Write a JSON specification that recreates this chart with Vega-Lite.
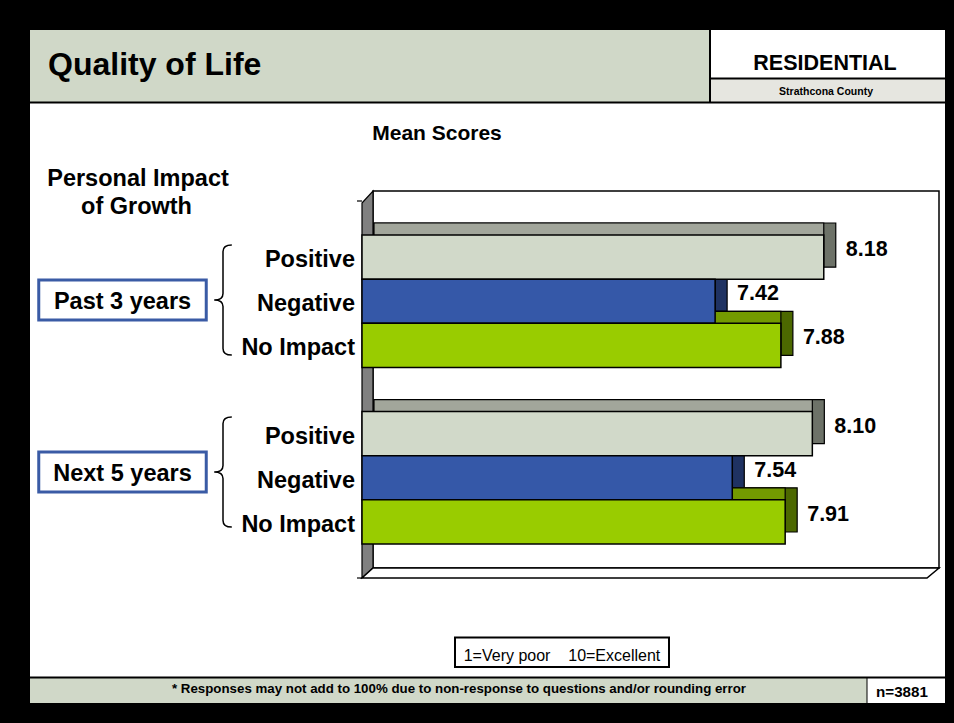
{
  "$schema": "https://vega.github.io/schema/vega-lite/v6.json",
  "width": 954,
  "height": 723,
  "autosize": {"type": "fit", "contains": "padding"},
  "padding": 0,
  "background": "black",
  "config": {"view": {"stroke": null}, "font": "Liberation Sans"},
  "layer": [
    {"data": {"values": [{"part": "slide"}]}, "mark": {"type": "rect", "fill": "white"},
     "encoding": {"x": {"value": 30}, "x2": {"value": 945}, "y": {"value": 30}, "y2": {"value": 703}}},
    {"data": {"values": [{"part": "header band"}]}, "mark": {"type": "rect", "fill": "#d0d8c8"},
     "encoding": {"x": {"value": 30}, "x2": {"value": 710}, "y": {"value": 30}, "y2": {"value": 102}}},
    {"data": {"values": [{"part": "county strip"}]}, "mark": {"type": "rect", "fill": "#e6e6e0"},
     "encoding": {"x": {"value": 710}, "x2": {"value": 945}, "y": {"value": 79}, "y2": {"value": 102}}},
    {"data": {"values": [{"part": "header rule"}]}, "mark": {"type": "rule", "stroke": "black", "strokeWidth": 2},
     "encoding": {"x": {"value": 30}, "x2": {"value": 945}, "y": {"value": 102.5}}},
    {"data": {"values": [{"part": "header divider"}]}, "mark": {"type": "rule", "stroke": "black", "strokeWidth": 2},
     "encoding": {"x": {"value": 710}, "y": {"value": 30}, "y2": {"value": 103}}},
    {"data": {"values": [{"part": "residential rule"}]}, "mark": {"type": "rule", "stroke": "black", "strokeWidth": 2},
     "encoding": {"x": {"value": 710}, "x2": {"value": 945}, "y": {"value": 78.5}}},
    {"data": {"values": [{"part": "footer band"}]}, "mark": {"type": "rect", "fill": "#d0d8c8"},
     "encoding": {"x": {"value": 30}, "x2": {"value": 867}, "y": {"value": 677}, "y2": {"value": 703}}},
    {"data": {"values": [{"part": "footer rule"}]}, "mark": {"type": "rule", "stroke": "black", "strokeWidth": 2},
     "encoding": {"x": {"value": 30}, "x2": {"value": 945}, "y": {"value": 677.5}}},
    {"data": {"values": [{"part": "n divider"}]}, "mark": {"type": "rule", "stroke": "black", "strokeWidth": 1},
     "encoding": {"x": {"value": 867}, "y": {"value": 677}, "y2": {"value": 703}}},
    {"data": {"values": [{"part": "scale note box"}]}, "mark": {"type": "rect", "fill": "white", "stroke": "black", "strokeWidth": 2},
     "encoding": {"x": {"value": 455}, "x2": {"value": 669}, "y": {"value": 637.5}, "y2": {"value": 667}}},
    {"data": {"values": [{"part": "back wall"}]}, "mark": {"type": "rect", "fill": "white", "stroke": "black", "strokeWidth": 1.5},
     "encoding": {"x": {"value": 373}, "x2": {"value": 939}, "y": {"value": 191}, "y2": {"value": 568}}},
    {"data": {"values": [{"part": "side wall"}]},
     "mark": {"type": "point", "shape": "M-0.0284,-0.938L0.0284,-1L0.0284,0.948L-0.0284,1Z", "size": 149769, "filled": true, "fill": "#808080", "stroke": "black", "strokeWidth": 1.2, "opacity": 1},
     "encoding": {"x": {"value": 367.5}, "y": {"value": 384.5}}},
    {"data": {"values": [{"part": "floor"}]},
     "mark": {"type": "point", "shape": "M-1,0.0173L0.9584,0.0173L1,-0.0173L-0.9619,-0.0173Z", "size": 332929, "filled": true, "fill": "white", "stroke": "black", "strokeWidth": 1.5, "opacity": 1},
     "encoding": {"x": {"value": 650.5}, "y": {"value": 573}}},
    {"data": {"values": [{"part": "top tick"}]}, "mark": {"type": "rule", "stroke": "black", "strokeWidth": 1.2},
     "encoding": {"x": {"value": 357}, "x2": {"value": 362}, "y": {"value": 201}}},
    {"data": {"values": [{"part": "bottom tick"}]}, "mark": {"type": "rule", "stroke": "black", "strokeWidth": 1.2},
     "encoding": {"x": {"value": 357}, "x2": {"value": 362}, "y": {"value": 578}}},
    {
      "data": {"values": [
        {"period": "Past 3 years", "impact": "Positive", "row": "Past 3 years / Positive", "score": 8.18},
        {"period": "Past 3 years", "impact": "Negative", "row": "Past 3 years / Negative", "score": 7.42},
        {"period": "Past 3 years", "impact": "No Impact", "row": "Past 3 years / No Impact", "score": 7.88},
        {"period": "Next 5 years", "impact": "Positive", "row": "Next 5 years / Positive", "score": 8.10},
        {"period": "Next 5 years", "impact": "Negative", "row": "Next 5 years / Negative", "score": 7.54},
        {"period": "Next 5 years", "impact": "No Impact", "row": "Next 5 years / No Impact", "score": 7.91}
      ]},
      "encoding": {
        "y": {"field": "row", "type": "nominal", "axis": null,
              "scale": {"domain": ["Past 3 years / Positive", "Past 3 years / Negative", "Past 3 years / No Impact", "gap", "Next 5 years / Positive", "Next 5 years / Negative", "Next 5 years / No Impact"],
                        "range": [235, 544], "paddingInner": 0, "paddingOuter": 0}},
        "x": {"field": "score", "type": "quantitative", "axis": null,
              "scale": {"domain": [4.95, 9], "range": [362, 941], "zero": false, "nice": false}}
      },
      "layer": [
        {"mark": {"type": "bar", "xOffset": 12, "x2Offset": 12, "yOffset": -12, "stroke": "black", "strokeWidth": 1.2, "opacity": 1},
         "encoding": {"x2": {"datum": 4.95},
                      "fill": {"field": "impact", "type": "nominal", "legend": null,
                               "scale": {"domain": ["Positive", "Negative", "No Impact"], "range": ["#6d7268", "#1f3262", "#4c6800"]}}}},
        {"mark": {"type": "bar", "x2Offset": 12, "yOffset": -12, "stroke": "black", "strokeWidth": 1.2, "opacity": 1},
         "encoding": {"x2": {"datum": 4.95},
                      "fill": {"field": "impact", "type": "nominal", "legend": null,
                               "scale": {"domain": ["Positive", "Negative", "No Impact"], "range": ["#a2a69b", "#2c4a8c", "#739a00"]}}}},
        {"mark": {"type": "bar", "stroke": "black", "strokeWidth": 1.5, "opacity": 1},
         "encoding": {"x2": {"datum": 4.95},
                      "fill": {"field": "impact", "type": "nominal", "legend": null,
                               "scale": {"domain": ["Positive", "Negative", "No Impact"], "range": ["#d1d9c9", "#3558a8", "#99cc00"]}}}},
        {"mark": {"type": "text", "align": "left", "baseline": "alphabetic", "dx": 22, "dy": -1, "fontSize": 21.5, "fontWeight": "bold", "color": "black"},
         "encoding": {"text": {"field": "score", "type": "quantitative", "format": ".2f"}}},
        {"mark": {"type": "text", "align": "right", "baseline": "alphabetic", "dx": -7, "dy": 10, "fontSize": 23.5, "fontWeight": "bold", "color": "black"},
         "encoding": {"x": {"datum": 4.95}, "text": {"field": "impact", "type": "nominal"}}}
      ],
      "resolve": {"scale": {"fill": "independent"}}
    },
    {
      "data": {"values": [{"period": "Past 3 years"}, {"period": "Next 5 years"}]},
      "encoding": {
        "y": {"field": "period", "type": "nominal", "axis": null,
              "scale": {"type": "point", "domain": ["Past 3 years", "Next 5 years"], "range": [300, 472], "padding": 0}}
      },
      "layer": [
        {"mark": {"type": "point", "shape": "M-1,-0.239L1,-0.239L1,0.239L-1,0.239Z", "size": 28056, "filled": true, "fill": "white", "stroke": "#3a5ba5", "strokeWidth": 3, "opacity": 1},
         "encoding": {"x": {"value": 122.5}}},
        {"mark": {"type": "text", "align": "center", "baseline": "alphabetic", "dy": 8.5, "fontSize": 23.5, "fontWeight": "bold", "color": "black"},
         "encoding": {"x": {"value": 122.5}, "text": {"field": "period", "type": "nominal"}}},
        {"mark": {"type": "point", "shape": "M0.16,-1Q0,-1 0,-0.88L0,-0.12Q0,0 -0.16,0Q0,0 0,0.12L0,0.88Q0,1 0.16,1", "size": 12100, "filled": false, "stroke": "black", "strokeWidth": 1.5, "opacity": 1},
         "encoding": {"x": {"value": 223}}}
      ]
    },
    {"data": {"values": [{"label": "Quality of Life"}]},
     "mark": {"type": "text", "align": "left", "baseline": "alphabetic", "fontSize": 32, "fontWeight": "bold", "color": "black"},
     "encoding": {"text": {"field": "label"}, "x": {"value": 48}, "y": {"value": 75}}},
    {"data": {"values": [{"label": "RESIDENTIAL"}]},
     "mark": {"type": "text", "align": "center", "baseline": "alphabetic", "fontSize": 21.5, "fontWeight": "bold", "color": "black"},
     "encoding": {"text": {"field": "label"}, "x": {"value": 825}, "y": {"value": 70}}},
    {"data": {"values": [{"label": "Strathcona County"}]},
     "mark": {"type": "text", "align": "center", "baseline": "alphabetic", "fontSize": 10.5, "fontWeight": "bold", "color": "black"},
     "encoding": {"text": {"field": "label"}, "x": {"value": 826}, "y": {"value": 95}}},
    {"data": {"values": [{"label": "Mean Scores"}]},
     "mark": {"type": "text", "align": "center", "baseline": "alphabetic", "fontSize": 21, "fontWeight": "bold", "color": "black"},
     "encoding": {"text": {"field": "label"}, "x": {"value": 437}, "y": {"value": 140}}},
    {"data": {"values": [{"label": "Personal Impact"}]},
     "mark": {"type": "text", "align": "center", "baseline": "alphabetic", "fontSize": 23.5, "fontWeight": "bold", "color": "black"},
     "encoding": {"text": {"field": "label"}, "x": {"value": 138}, "y": {"value": 186}}},
    {"data": {"values": [{"label": "of Growth"}]},
     "mark": {"type": "text", "align": "center", "baseline": "alphabetic", "fontSize": 23.5, "fontWeight": "bold", "color": "black"},
     "encoding": {"text": {"field": "label"}, "x": {"value": 136.5}, "y": {"value": 214}}},
    {"data": {"values": [{"label": "1=Very poor\u00a0\u00a0\u00a0\u00a010=Excellent"}]},
     "mark": {"type": "text", "align": "center", "baseline": "alphabetic", "fontSize": 16, "color": "black"},
     "encoding": {"text": {"field": "label"}, "x": {"value": 562}, "y": {"value": 661}}},
    {"data": {"values": [{"label": "* Responses may not add to 100% due to non-response to questions and/or rounding error"}]},
     "mark": {"type": "text", "align": "center", "baseline": "alphabetic", "fontSize": 13.3, "fontWeight": "bold", "color": "black"},
     "encoding": {"text": {"field": "label"}, "x": {"value": 459}, "y": {"value": 693}}},
    {"data": {"values": [{"label": "n=3881"}]},
     "mark": {"type": "text", "align": "center", "baseline": "alphabetic", "fontSize": 15.2, "fontWeight": "bold", "color": "black"},
     "encoding": {"text": {"field": "label"}, "x": {"value": 902}, "y": {"value": 697}}}
  ],
  "resolve": {"scale": {"x": "independent", "y": "independent"}}
}
